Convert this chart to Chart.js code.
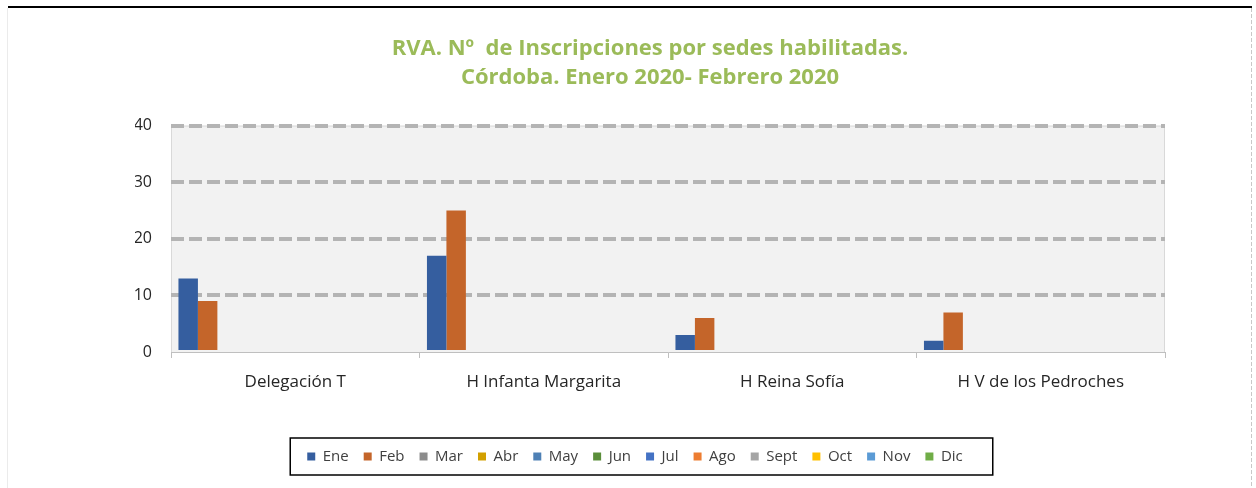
<!DOCTYPE html>
<html lang="es">
<head>
<meta charset="utf-8">
<title>RVA. Inscripciones por sedes habilitadas</title>
<script src="https://cdn.jsdelivr.net/npm/chart.js@4.4.1/dist/chart.umd.min.js"></script>
<style>
  html, body { margin: 0; padding: 0; background: #fff; }
  #wrap { position: relative; width: 1256px; height: 488px; }
</style>
</head>
<body>
<div id="wrap"><canvas id="grafico"></canvas></div>
<script>
// Datos
const sedes = ['Delegación T', 'H Infanta Margarita', 'H Reina Sofía', 'H V de los Pedroches'];
const meses = ['Ene', 'Feb', 'Mar', 'Abr', 'May', 'Jun', 'Jul', 'Ago', 'Sept', 'Oct', 'Nov', 'Dic'];
const coloresMes = ['#355E9F', '#C4652A', '#8C8C8C', '#D2A000', '#4E80B5', '#5A8E3A',
                    '#4472C4', '#ED7D31', '#A5A5A5', '#FFC000', '#5B9BD5', '#70AD47'];
const valoresEne = [13, 17, 3, 2];
const valoresFeb = [9, 25, 6, 7];
const sinDatos = [null, null, null, null];
const ticksY = [0, 10, 20, 30, 40];

const titulo = ['RVA. Nº  de Inscripciones por sedes habilitadas.', 'Córdoba. Enero 2020- Febrero 2020'];

Chart.defaults.font.family = '"Open Sans", Lato, sans-serif';

const datasets = meses.map((m, i) => ({
  label: m,
  data: i === 0 ? valoresEne : (i === 1 ? valoresFeb : sinDatos),
  backgroundColor: coloresMes[i],
  borderWidth: 0,
  barPercentage: 1,
  categoryPercentage: 0.94
}));

// fondo del área de trazado, marco de la hoja y recuadro de la leyenda
const marco = {
  id: 'marco',
  afterLayout(chart) {
    // la leyenda del original va un poco a la izquierda del título
    const lg = chart.legend;
    if (lg) { lg.left -= 15; lg.right -= 15; }
  },
  beforeDraw(chart) {
    const { ctx, chartArea: a, width, height } = chart;
    ctx.save();
    ctx.fillStyle = '#FFFFFF';
    ctx.fillRect(0, 0, width, height);
    ctx.fillStyle = '#F2F2F2';
    ctx.fillRect(a.left, a.top, a.right - a.left, a.bottom - a.top);
    ctx.strokeStyle = '#D9D9D9';
    ctx.lineWidth = 1;
    ctx.strokeRect(a.left + 0.5, a.top + 0.5, a.right - a.left - 1, a.bottom - a.top);
    // bordes de la hoja
    ctx.fillStyle = '#000000';
    ctx.fillRect(8, 6, 1244, 2);
    ctx.strokeStyle = '#EBEBEB';
    ctx.beginPath(); ctx.moveTo(7.5, 8); ctx.lineTo(7.5, height); ctx.stroke();
    ctx.strokeStyle = '#C8C8C8';
    ctx.setLineDash([4, 2]);
    ctx.beginPath(); ctx.moveTo(1251.5, 8); ctx.lineTo(1251.5, height); ctx.stroke();
    ctx.restore();
  },
  afterDraw(chart) {
    const lg = chart.legend;
    if (!lg || !lg.legendHitBoxes.length) return;
    const cajas = lg.legendHitBoxes;
    const first = cajas[0], last = cajas[cajas.length - 1];
    const cy = first.top + first.height / 2;
    const { ctx } = chart;
    ctx.save();
    ctx.strokeStyle = '#000000';
    ctx.lineWidth = 1.5;
    const x0 = first.left - 17;
    const x1 = last.left + last.width + 30;
    ctx.strokeRect(x0, cy - 18.5, x1 - x0, 37);
    ctx.restore();
  }
};

new Chart(document.getElementById('grafico'), {
  type: 'bar',
  data: { labels: sedes, datasets },
  plugins: [marco],
  options: {
    responsive: true,
    maintainAspectRatio: false,
    animation: false,
    layout: { padding: { top: 0, left: 135, right: 91, bottom: 14 } },
    plugins: {
      title: {
        display: true,
        text: titulo,
        color: '#9BBB59',
        font: { size: 22, weight: 'bold', lineHeight: 1.32 },
        padding: { top: 34.5, bottom: 33 }
      },
      legend: {
        position: 'bottom',
        labels: {
          boxWidth: 8,
          boxHeight: 8,
          padding: 15,
          color: '#404040',
          font: { size: 15 }
        }
      },
      tooltip: { enabled: false }
    },
    scales: {
      x: {
        grid: {
          offset: true,
          drawOnChartArea: false,
          drawTicks: true,
          tickLength: 6,
          color: '#BFBFBF',
          lineWidth: 1
        },
        border: { display: true, color: '#BFBFBF', width: 1 },
        ticks: { color: '#262626', font: { size: 17 }, padding: 14 },
        afterFit(scale) { scale.height = 82; }
      },
      y: {
        min: 0,
        max: 40,
        afterBuildTicks(scale) { scale.ticks = ticksY.map(v => ({ value: v })); },
        grid: {
          drawTicks: false,
          lineWidth: 4,
          color: ctx => (ctx.tick && ctx.tick.value === 0) ? 'rgba(0,0,0,0)' : '#B4B4B4'
        },
        border: { display: false, dash: [13, 5] },
        ticks: { color: '#262626', font: { size: 16 }, padding: 19 },
        afterFit(scale) { scale.width = 36; }
      }
    }
  }
});
</script>
</body>
</html>
